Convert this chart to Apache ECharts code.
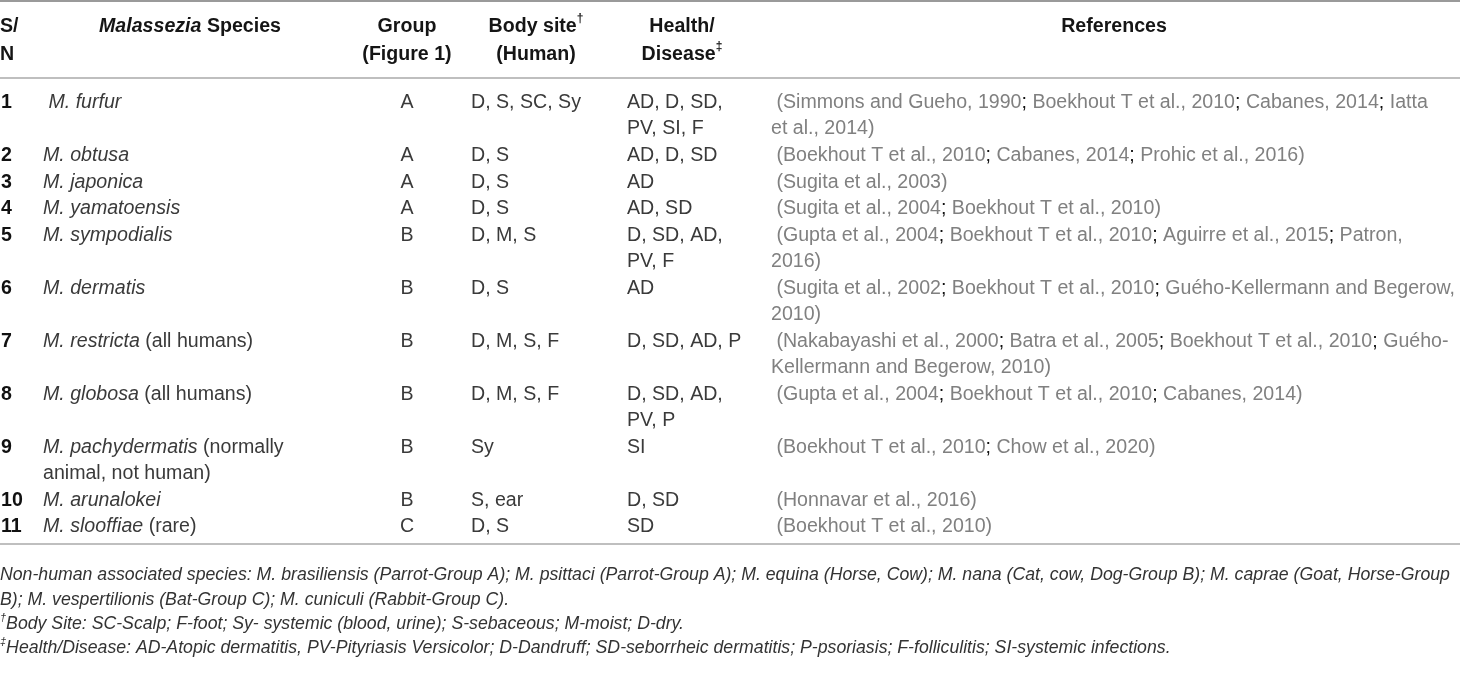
<!DOCTYPE html>
<html>
<head>
<meta charset="utf-8">
<title>Malassezia species</title>
<script src="https://cdn.jsdelivr.net/npm/echarts@6.0.0/dist/echarts.min.js"></script>
<style>
    html, body { margin: 0; padding: 0; background: #fff; }
    #speciesTable { width: 1460px; height: 676px; }
</style>
</head>
<body>
<div id="speciesTable"></div>
<script>
// table content, one array per column
var serialNo = ["1", "2", "3", "4", "5", "6", "7", "8", "9", "10", "11"];
var speciesName = ["M. furfur", "M. obtusa", "M. japonica", "M. yamatoensis", "M. sympodialis", "M. dermatis",
    "M. restricta", "M. globosa", "M. pachydermatis", "M. arunalokei", "M. slooffiae"];
var speciesNote = ["", "", "", "", "", "", " (all humans)", " (all humans)", " (normally\nanimal, not human)", "", " (rare)"];
var groups = ["A", "A", "A", "A", "B", "B", "B", "B", "B", "B", "C"];
var bodySites = ["D, S, SC, Sy", "D, S", "D, S", "D, S", "D, M, S", "D, S", "D, M, S, F", "D, M, S, F", "Sy", "S, ear", "D, S"];
var diseases = ["AD, D, SD,\nPV, SI, F", "AD, D, SD", "AD", "AD, SD", "D, SD, AD,\nPV, F", "AD", "D, SD, AD, P",
    "D, SD, AD,\nPV, P", "SI", "D, SD", "SD"];
var references = [
    " (Simmons and Gueho, 1990; Boekhout T et al., 2010; Cabanes, 2014; Iatta\net al., 2014)",
    " (Boekhout T et al., 2010; Cabanes, 2014; Prohic et al., 2016)",
    " (Sugita et al., 2003)",
    " (Sugita et al., 2004; Boekhout T et al., 2010)",
    " (Gupta et al., 2004; Boekhout T et al., 2010; Aguirre et al., 2015; Patron,\n2016)",
    " (Sugita et al., 2002; Boekhout T et al., 2010; Guého-Kellermann and Begerow,\n2010)",
    " (Nakabayashi et al., 2000; Batra et al., 2005; Boekhout T et al., 2010; Guého-\nKellermann and Begerow, 2010)",
    " (Gupta et al., 2004; Boekhout T et al., 2010; Cabanes, 2014)",
    " (Boekhout T et al., 2010; Chow et al., 2020)",
    " (Honnavar et al., 2016)",
    " (Boekhout T et al., 2010)"
];
var headerTitles = ["S/\nN", "{it|Malassezia} Species", "Group\n(Figure 1)", "Body site{sup|†}\n(Human)", "Health/\nDisease{sup|‡}", "References"];
var footnotes = [
    "Non-human associated species: M. brasiliensis (Parrot-Group A); M. psittaci (Parrot-Group A); M. equina (Horse, Cow); M. nana (Cat, cow, Dog-Group B); M. caprae (Goat, Horse-Group\nB); M. vespertilionis (Bat-Group C); M. cuniculi (Rabbit-Group C).",
    "{sup|†}Body Site: SC-Scalp; F-foot; Sy- systemic (blood, urine); S-sebaceous; M-moist; D-dry.",
    "{sup|‡}Health/Disease: AD-Atopic dermatitis, PV-Pityriasis Versicolor; D-Dandruff; SD-seborrheic dermatitis; P-psoriasis; F-folliculitis; SI-systemic infections."
];

// layout
var FONT = "'Liberation Sans', Arial, sans-serif";
var FS = 19.6;
var LINE_H = 26;
var ROW_LINE = 26.5;
var colX = {sn: 1, species: 43, group: 407, body: 471, health: 627, refs: 771};
var headCenter = [null, 190, 407, 536, 682, 1114];
var firstRowY = 103;

function lineCount(s){ return s.split("\n").length; }

// y (centre of first text line) for each row, from how many lines it needs
var rowY = [];
var y = firstRowY;
for (var i = 0; i < serialNo.length; i++) {
    rowY.push(y);
    var n = Math.max(lineCount(speciesNote[i]), lineCount(diseases[i]), lineCount(references[i]));
    y += n * ROW_LINE;
}
var bottomRuleY = rowY[rowY.length - 1] + 17;

var rowData = serialNo.map(function(s, i){ return [i, rowY[i]]; });

var richStyles = {
    it: {fontStyle: "italic", fontFamily: FONT, fontSize: FS, lineHeight: LINE_H, fill: "#3a3a3a"},
    sc: {fontFamily: FONT, fontSize: FS, lineHeight: LINE_H, fill: "#111"}
};

function textEl(x, yTop, text, extra){
    var style = {
        x: x, y: yTop, text: text,
        fontFamily: FONT, fontSize: FS, lineHeight: LINE_H,
        fill: "#3a3a3a", verticalAlign: "top", align: "left",
        rich: richStyles
    };
    for (var k in extra) { style[k] = extra[k]; }
    return {type: "text", style: style};
}

function renderRow(params, api){
    var i = api.value(0);
    var p = api.coord([0, api.value(1)]);
    var top = p[1] - LINE_H / 2;
    function cx(v){ return api.coord([v, 0])[0]; }
    return {
        type: "group",
        children: [
            textEl(cx(colX.sn), top, serialNo[i], {fontWeight: "bold", fill: "#111"}),
            textEl(cx(colX.species), top, (i === 0 ? " " : "") + "{it|" + speciesName[i] + "}" + speciesNote[i]),
            textEl(cx(colX.group), top, groups[i], {align: "center"}),
            textEl(cx(colX.body), top, bodySites[i]),
            textEl(cx(colX.health), top, diseases[i]),
            textEl(cx(colX.refs), top, references[i].replace(/;/g, "{sc|;}"), {fill: "#808080"})
        ]
    };
}

function renderRules(params, api){
    var w = api.getWidth();
    var ys = [[1, 2, "#9a9a9a"], [78, 1.5, "#aaa"], [bottomRuleY, 1.5, "#aaa"]];
    return {
        type: "group",
        children: ys.map(function(r){
            var yy = api.coord([0, r[0]])[1];
            return {type: "line", shape: {x1: 0, y1: yy, x2: w, y2: yy}, style: {stroke: r[2], lineWidth: r[1]}};
        })
    };
}

var headerGraphics = headerTitles.map(function(t, k){
    var isLeft = k === 0;
    return {
        type: "text",
        x: isLeft ? 0 : headCenter[k],
        y: 13,
        style: {
            text: t, fontFamily: FONT, fontSize: FS, fontWeight: "bold", lineHeight: 28,
            fill: "#151515", align: isLeft ? "left" : "center", verticalAlign: "top",
            rich: {
                it: {fontStyle: "italic", fontWeight: "bold", fontFamily: FONT, fontSize: FS, lineHeight: 28, fill: "#151515"},
                sup: {fontFamily: FONT, fontSize: 12, fontWeight: "bold", lineHeight: 28, verticalAlign: "top", padding: [0, 0, 9, 0], fill: "#151515"}
            }
        }
    };
});

var footY = [563, 612, 636];
var footGraphics = footnotes.map(function(t, k){
    return {
        type: "text", x: 0, y: footY[k],
        style: {
            text: t, fontFamily: FONT, fontSize: 17.7, fontStyle: "italic", lineHeight: 24.5,
            fill: "#333", verticalAlign: "top",
            rich: {
                sup: {fontFamily: FONT, fontSize: 11, fontStyle: "italic", lineHeight: 24.5, verticalAlign: "top", padding: [0, 0, 8, 0], fill: "#333"}
            }
        }
    };
});

var chart = echarts.init(document.getElementById("speciesTable"));
chart.setOption({
    animation: false,
    grid: {left: 0, right: 0, top: 0, bottom: 0},
    xAxis: {type: "value", min: 0, max: 1460, show: false},
    yAxis: {type: "value", min: 0, max: 676, inverse: true, show: false},
    graphic: headerGraphics.concat(footGraphics),
    series: [
        {type: "custom", renderItem: renderRules, data: [[0, 0]], silent: true},
        {type: "custom", renderItem: renderRow, data: rowData, silent: true}
    ]
});
window.addEventListener("resize", function(){ chart.resize(); });
</script>
</body>
</html>
